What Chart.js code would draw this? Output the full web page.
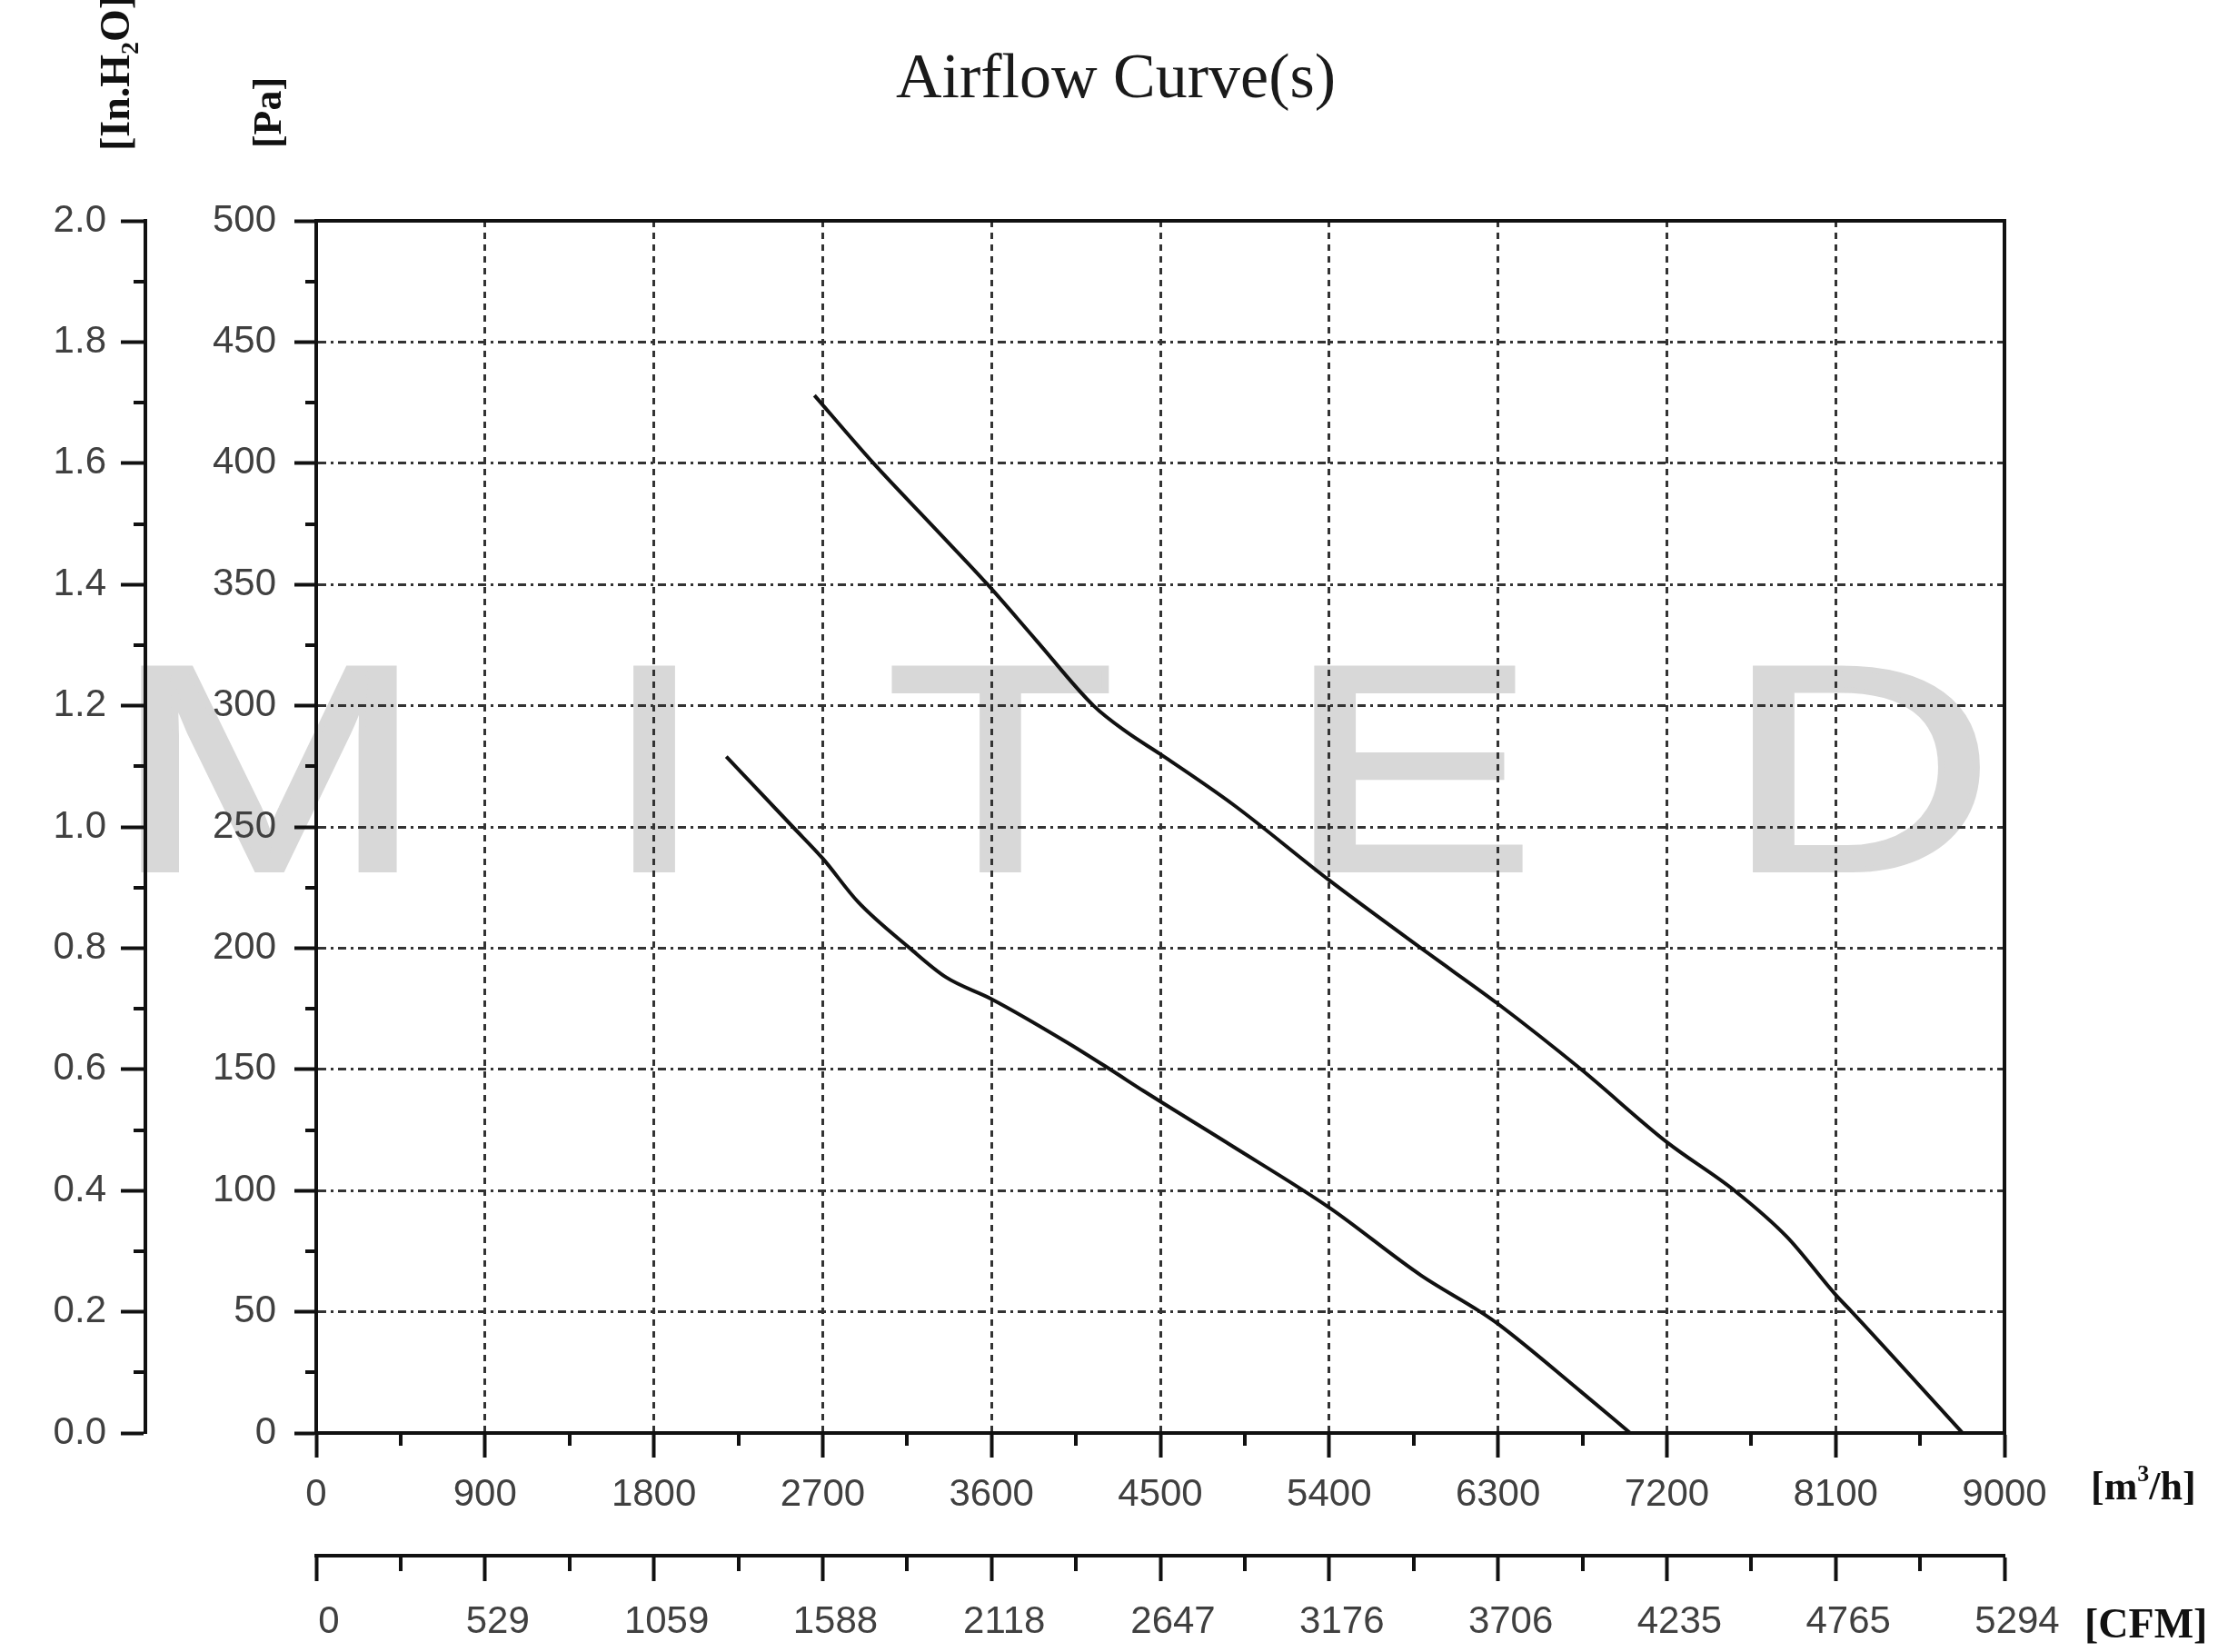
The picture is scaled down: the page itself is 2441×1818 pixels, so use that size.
<!DOCTYPE html>
<html><head><meta charset="utf-8">
<style>html,body{margin:0;padding:0;background:#fff;}canvas{display:block;}</style>
<script src="https://cdn.jsdelivr.net/npm/chart.js@4.4.1/dist/chart.umd.min.js"></script>
</head><body>
<canvas id="c" width="2441" height="1818" style="width:2441px;height:1818px"></canvas>
<script>
// ---- data ----
const chartTitle = 'Airflow Curve(s)';
const flowTicks = [0, 900, 1800, 2700, 3600, 4500, 5400, 6300, 7200, 8100, 9000];
const flowTickLabels = ['0', '900', '1800', '2700', '3600', '4500', '5400', '6300', '7200', '8100', '9000'];
const cfmTickLabels = ['0', '529', '1059', '1588', '2118', '2647', '3176', '3706', '4235', '4765', '5294'];
const paTicks = [0, 50, 100, 150, 200, 250, 300, 350, 400, 450, 500];
const paTickLabels = ['0', '50', '100', '150', '200', '250', '300', '350', '400', '450', '500'];
const inH2OTicks = [0, 0.2, 0.4, 0.6, 0.8, 1.0, 1.2, 1.4, 1.6, 1.8, 2.0];
const inH2OTickLabels = ['0.0', '0.2', '0.4', '0.6', '0.8', '1.0', '1.2', '1.4', '1.6', '1.8', '2.0'];

const upperFlow = [2656, 2959, 3300, 3579, 3838, 4144, 4323, 4500, 4892, 5400, 5925, 6300, 6743, 7200, 7561, 7839, 8100, 8186, 8777];
const upperPa   = [428,  401,  373,  350,  327,  300,  289,  280,  259,  228,  198,  177,  150,  120,  100,  81,   57,   50,   0];
const lowerFlow = [2186, 2541, 2700, 2889, 3164, 3357, 3600, 4005, 4232, 4412, 4870, 5400, 5890, 6206, 6300, 6743, 7005];
const lowerPa   = [279,  250,  237,  219,  200,  188,  179,  161,  150,  141,  119,  93,   65,   50,   45,   17,   0];

const unitPa = '[Pa]';
const unitInH2O = ['[In.H', '2', 'O]'];
const unitFlow = ['[m', '3', '/h]'];
const unitCfm = '[CFM]';
const watermark = ['M', 'I', 'T', 'E', 'D'];

// ---- styling ----
const SANS = "'Liberation Sans', Arial, sans-serif";
const SERIF = "'Liberation Serif', 'Times New Roman', serif";
const AXIS = '#111';
const LABEL = '#404040';
const GRID = '#333';

function pts(xs, ys) { return xs.map((x, i) => ({x: x, y: ys[i]})); }
function mids(a) { const r = []; for (let i = 0; i < a.length - 1; i++) r.push((a[i] + a[i + 1]) / 2); return r; }

const bgPlugin = {
  id: 'bg',
  beforeDraw(chart) {
    const ctx = chart.ctx;
    ctx.save();
    ctx.fillStyle = '#fff';
    ctx.fillRect(0, 0, chart.width, chart.height);
    ctx.fillStyle = '#d8d8d8';
    ctx.strokeStyle = '#d8d8d8';
    ctx.lineWidth = 6;
    ctx.font = '322px ' + SANS;
    ctx.textAlign = 'center';
    ctx.textBaseline = 'alphabetic';
    const xs = [296, 720, 1101, 1553, 2047];
    watermark.forEach((ch, i) => {
      ctx.save();
      ctx.translate(xs[i], 957);
      ctx.scale(1.27, 1);
      ctx.fillText(ch, 0, 0);
      ctx.strokeText(ch, 0, 0);
      ctx.restore();
    });
    ctx.restore();
  }
};

const decoPlugin = {
  id: 'deco',
  afterDraw(chart) {
    const ctx = chart.ctx;
    const s = chart.scales;
    ctx.save();
    // minor ticks
    ctx.strokeStyle = AXIS;
    ctx.lineWidth = 4;
    ctx.beginPath();
    mids(paTicks).forEach(v => { const y = Math.round(s.y.getPixelForValue(v)); ctx.moveTo(s.y.right - 12, y); ctx.lineTo(s.y.right, y); });
    mids(inH2OTicks).forEach(v => { const y = Math.round(s.y2.getPixelForValue(v)); ctx.moveTo(s.y2.right - 13, y); ctx.lineTo(s.y2.right, y); });
    mids(flowTicks).forEach(v => { const x = Math.round(s.x.getPixelForValue(v)); ctx.moveTo(x, s.x.top); ctx.lineTo(x, s.x.top + 14); });
    mids(flowTicks).forEach(v => { const x = Math.round(s.x2.getPixelForValue(v)); ctx.moveTo(x, s.x2.top); ctx.lineTo(x, s.x2.top + 17); });
    ctx.stroke();

    // title
    ctx.fillStyle = '#1a1a1a';
    ctx.font = '70px ' + SERIF;
    ctx.textAlign = 'center';
    ctx.textBaseline = 'alphabetic';
    ctx.fillText(chartTitle, 1228, 107);

    // unit labels
    ctx.fillStyle = '#111';
    // [Pa]
    ctx.save();
    ctx.translate(309, 124);
    ctx.rotate(-Math.PI / 2);
    ctx.font = 'bold 44px ' + SERIF;
    ctx.textAlign = 'center';
    ctx.fillText(unitPa, 0, 0);
    ctx.restore();
    // [In.H2O]
    ctx.save();
    ctx.translate(142, 166);
    ctx.rotate(-Math.PI / 2);
    ctx.textAlign = 'left';
    ctx.font = 'bold 46px ' + SERIF;
    let w = ctx.measureText(unitInH2O[0]).width;
    ctx.fillText(unitInH2O[0], 0, 0);
    ctx.font = 'bold 28px ' + SERIF;
    ctx.fillText(unitInH2O[1], w, 10);
    w += ctx.measureText(unitInH2O[1]).width;
    ctx.font = 'bold 46px ' + SERIF;
    ctx.fillText(unitInH2O[2], w, 0);
    ctx.restore();
    // [m3/h]
    ctx.textAlign = 'left';
    let x0 = 2301;
    ctx.font = 'bold 44px ' + SERIF;
    ctx.fillText(unitFlow[0], x0, 1650);
    x0 += ctx.measureText(unitFlow[0]).width;
    ctx.font = 'bold 26px ' + SERIF;
    ctx.fillText(unitFlow[1], x0, 1630);
    x0 += ctx.measureText(unitFlow[1]).width;
    ctx.font = 'bold 44px ' + SERIF;
    ctx.fillText(unitFlow[2], x0, 1650);
    // [CFM]
    ctx.font = 'bold 46px ' + SERIF;
    ctx.fillText(unitCfm, 2294, 1802);
    ctx.restore();
  }
};

const tickFont = {family: SANS, size: 42};

new Chart(document.getElementById('c'), {
  type: 'line',
  data: {
    datasets: [
      {data: pts(upperFlow, upperPa), xAxisID: 'x', yAxisID: 'y', borderColor: '#111', borderWidth: 4, pointRadius: 0, cubicInterpolationMode: 'monotone', fill: false},
      {data: pts(lowerFlow, lowerPa), xAxisID: 'x', yAxisID: 'y', borderColor: '#111', borderWidth: 4, pointRadius: 0, cubicInterpolationMode: 'monotone', fill: false}
    ]
  },
  options: {
    responsive: false,
    animation: false,
    devicePixelRatio: 1,
    layout: {padding: {left: 0, right: 235, top: 243, bottom: 0}},
    plugins: {
      legend: {display: false},
      tooltip: {enabled: false},
      title: {display: false}
    },
    scales: {
      x: {
        type: 'linear', position: 'bottom', min: 0, max: 9000, weight: 0,
        afterBuildTicks: sc => { sc.ticks = flowTicks.map(v => ({value: v})); },
        afterFit: sc => { sc.height = 135; },
        ticks: {font: tickFont, color: LABEL, padding: 16, maxRotation: 0, autoSkip: false, callback: (v, i) => flowTickLabels[i]},
        grid: {color: GRID, lineWidth: 3, drawOnChartArea: true, drawTicks: true, tickLength: 27, tickWidth: 4, tickColor: AXIS},
        border: {display: true, color: AXIS, width: 4, dash: [7, 6]}
      },
      x2: {
        type: 'linear', position: 'bottom', min: 0, max: 9000, weight: 1,
        afterBuildTicks: sc => { sc.ticks = flowTicks.map(v => ({value: v})); },
        afterFit: sc => { sc.height = 106; },
        ticks: {font: tickFont, color: LABEL, padding: 20, labelOffset: 14, maxRotation: 0, autoSkip: false, callback: (v, i) => cfmTickLabels[i]},
        grid: {drawOnChartArea: false, drawTicks: true, tickLength: 28, tickWidth: 4, tickColor: AXIS},
        border: {display: true, color: AXIS, width: 4}
      },
      x3: {
        type: 'linear', position: 'top', min: 0, max: 9000,
        afterFit: sc => { sc.height = 0; },
        ticks: {display: false},
        grid: {drawOnChartArea: false, drawTicks: false},
        border: {display: true, color: AXIS, width: 4}
      },
      y: {
        type: 'linear', position: 'left', min: 0, max: 500, weight: 0,
        afterBuildTicks: sc => { sc.ticks = paTicks.map(v => ({value: v})); },
        afterFit: sc => { sc.width = 188; },
        ticks: {font: tickFont, color: LABEL, padding: 20, autoSkip: false, callback: (v, i) => paTickLabels[i]},
        grid: {color: GRID, lineWidth: 3, drawOnChartArea: true, drawTicks: true, tickLength: 24, tickWidth: 4, tickColor: AXIS},
        border: {display: true, color: AXIS, width: 4, dash: [9, 5, 3, 5]}
      },
      y2: {
        type: 'linear', position: 'left', min: 0, max: 2.0, weight: 1,
        afterBuildTicks: sc => { sc.ticks = inH2OTicks.map(v => ({value: v})); },
        afterFit: sc => { sc.width = 160; },
        ticks: {font: tickFont, color: LABEL, padding: 16, autoSkip: false, callback: (v, i) => inH2OTickLabels[i]},
        grid: {drawOnChartArea: false, drawTicks: true, tickLength: 27, tickWidth: 4, tickColor: AXIS},
        border: {display: true, color: AXIS, width: 4}
      },
      y3: {
        type: 'linear', position: 'right', min: 0, max: 500,
        afterFit: sc => { sc.width = 0; },
        ticks: {display: false},
        grid: {drawOnChartArea: false, drawTicks: false},
        border: {display: true, color: AXIS, width: 4}
      }
    }
  },
  plugins: [bgPlugin, decoPlugin]
});
</script>
</body></html>
